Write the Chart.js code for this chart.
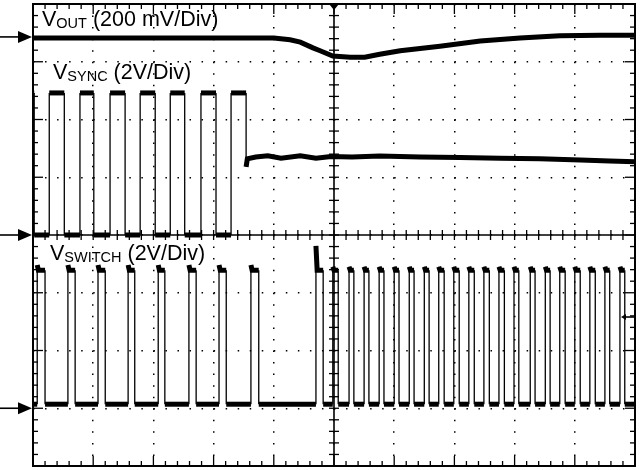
<!DOCTYPE html>
<html>
<head>
<meta charset="utf-8">
<script src="https://cdn.jsdelivr.net/npm/chart.js@4"></script>
<style>
  html, body { margin: 0; padding: 0; background: #fff; }
  #wrap { width: 640px; height: 470px; }
</style>
</head>
<body>
<div id="wrap"><canvas id="c" width="640" height="470"></canvas></div>
<script>
// All positions in screen divisions: x 0..10, y -4..+4 (0 = centre line)

// V_OUT (200 mV/Div) trace
const voutX = [0, 4.00, 4.27, 4.44, 4.65, 4.77, 4.98, 5.27, 5.51, 5.76, 6.10, 6.76, 7.43, 8.09, 8.75, 9.42, 10];
const voutY = [3.41, 3.41, 3.38, 3.34, 3.24, 3.19, 3.10, 3.08, 3.08, 3.13, 3.19, 3.27, 3.36, 3.41, 3.45, 3.46, 3.46];

// V_SYNC (2V/Div) pulses
const syncHigh = 2.46;
const syncLow = 0;
const syncFirstFall = 0.02;
const syncRise = [0.27, 0.78, 1.28, 1.78, 2.28, 2.79, 3.29];
const syncFall = [0.52, 1.01, 1.53, 2.03, 2.52, 3.04, 3.54];
// V_SYNC after the sync signal stops
const syncTailX = [3.54, 3.56, 3.70, 3.90, 4.12, 4.44, 4.70, 4.95, 5.30, 5.76, 6.43, 7.09, 7.76, 8.42, 9.09, 9.58, 10];
const syncTailY = [1.18, 1.32, 1.35, 1.37, 1.33, 1.37, 1.33, 1.36, 1.35, 1.37, 1.35, 1.34, 1.33, 1.32, 1.30, 1.28, 1.27];

// V_SWITCH (2V/Div) pulses
const swHigh = -0.61;
const swLow = -2.93;
const swRise = [0.07, 0.58, 1.08, 1.58, 2.08, 2.59, 3.09, 3.62, 4.70,
  4.98, 5.25, 5.50, 5.75, 6.00, 6.25, 6.50, 6.74, 6.99, 7.24, 7.49, 7.74, 7.99,
  8.26, 8.51, 8.75, 9.00, 9.25, 9.50, 9.75];
const swFall = [0.20, 0.70, 1.20, 1.69, 2.19, 2.71, 3.21, 3.75, 4.82,
  5.07, 5.33, 5.58, 5.83, 6.08, 6.33, 6.58, 6.83, 7.08, 7.33, 7.58, 7.83, 8.07,
  8.34, 8.59, 8.84, 9.09, 9.34, 9.58, 9.83];
const swPeak = [-0.52, -0.52, -0.52, -0.52, -0.52, -0.52, -0.52, -0.52, -0.19,
  -0.55, -0.55, -0.55, -0.55, -0.55, -0.55, -0.55, -0.55, -0.55, -0.55, -0.55, -0.55, -0.55,
  -0.55, -0.55, -0.55, -0.55, -0.55, -0.55, -0.55];

// Channel reference markers (left arrows) in divisions
const refLevels = [3.43, 0, -3.00];

// ---- build point lists from the arrays above ----
const voutPts = voutX.map((x, i) => ({ x, y: voutY[i] }));

const syncPts = [{ x: 0, y: syncHigh }, { x: syncFirstFall, y: syncHigh }, { x: syncFirstFall, y: syncLow }];
syncRise.forEach((r, i) => {
  syncPts.push({ x: r, y: syncLow }, { x: r, y: syncHigh }, { x: syncFall[i], y: syncHigh });
  if (i < syncRise.length - 1) syncPts.push({ x: syncFall[i], y: syncLow });
});
syncTailX.forEach((x, i) => syncPts.push({ x, y: syncTailY[i] }));

const swPts = [{ x: 0, y: swLow }];
swRise.forEach((r, i) => {
  swPts.push({ x: r, y: swLow }, { x: r, y: swPeak[i] }, { x: r + 0.02, y: swHigh },
             { x: swFall[i], y: swHigh }, { x: swFall[i], y: swLow });
});
swPts.push({ x: 10, y: swLow });

const edgeWidth = ctx => (Math.abs(ctx.p0.x - ctx.p1.x) < 0.6 ? 1.3 : 5);

const traceStyle = {
  showLine: true, borderColor: '#000', backgroundColor: '#000',
  pointRadius: 0, pointHoverRadius: 0, fill: false, tension: 0,
  borderJoinStyle: 'miter', borderCapStyle: 'butt'
};

const scopeDeco = {
  id: 'scopeDeco',
  afterDraw(chart) {
    const { ctx, chartArea: a, scales: { x, y } } = chart;
    const line = (x1, y1, x2, y2) => { ctx.beginPath(); ctx.moveTo(x1, y1); ctx.lineTo(x2, y2); ctx.stroke(); };
    ctx.save();
    ctx.strokeStyle = '#000';
    ctx.fillStyle = '#000';
    const cx = x.getPixelForValue(5), cy = y.getPixelForValue(0);
    // centre cross
    ctx.lineWidth = 1.6;
    line(cx, a.top, cx, a.bottom);
    line(a.left, cy, a.right, cy);
    // ticks
    ctx.lineWidth = 1.3;
    for (let k = 0; k <= 50; k++) {
      const px = x.getPixelForValue(k / 5);
      const L = (k % 5 === 0) ? 10 : 5;
      line(px, a.top, px, a.top + L);
      line(px, a.bottom, px, a.bottom - L);
      line(px, cy - 5, px, cy + 5);
    }
    for (let k = 0; k <= 40; k++) {
      const py = y.getPixelForValue(-4 + k / 5);
      const L = (k % 5 === 0) ? 10 : 5;
      line(a.left, py, a.left + L, py);
      line(a.right, py, a.right - L, py);
      line(cx - 5, py, cx + 5, py);
    }
    // frame
    ctx.lineWidth = 2;
    ctx.strokeRect(a.left, a.top, a.right - a.left, a.bottom - a.top);
    // reference arrows
    ctx.lineWidth = 1.6;
    refLevels.forEach(v => {
      const py = y.getPixelForValue(v);
      line(0, py, a.left - 12, py);
      ctx.beginPath();
      ctx.moveTo(a.left - 15, py - 6); ctx.lineTo(a.left - 1, py); ctx.lineTo(a.left - 15, py + 6);
      ctx.closePath(); ctx.fill();
    });
    // trigger position marker (top)
    ctx.beginPath();
    ctx.moveTo(cx - 5, a.top); ctx.lineTo(cx + 5, a.top); ctx.lineTo(cx, a.top + 6);
    ctx.closePath(); ctx.fill();
    // trigger level marker (right)
    const ty = y.getPixelForValue(-1.42);
    line(a.right - 12, ty, a.right, ty);
    ctx.beginPath();
    ctx.moveTo(a.right - 14, ty); ctx.lineTo(a.right - 9, ty - 3); ctx.lineTo(a.right - 9, ty + 3);
    ctx.closePath(); ctx.fill();
    // channel labels
    const big = '21.5px "Liberation Sans", Arial, Helvetica, sans-serif';
    const small = '14.5px "Liberation Sans", Arial, Helvetica, sans-serif';
    const label = (main, sub, rest, x0, base) => {
      ctx.textBaseline = 'alphabetic';
      ctx.textAlign = 'left';
      ctx.font = big; ctx.fillText(main, x0, base);
      let w = ctx.measureText(main).width;
      ctx.font = small; ctx.fillText(sub, x0 + w, base + 1.5);
      w += ctx.measureText(sub).width;
      ctx.font = big; ctx.fillText(rest, x0 + w, base);
    };
    label('V', 'OUT', ' (200 mV/Div)', 42, 26);
    label('V', 'SYNC', ' (2V/Div)', 53, 79);
    label('V', 'SWITCH', ' (2V/Div)', 50, 260);
    ctx.restore();
  }
};

new Chart(document.getElementById('c'), {
  type: 'scatter',
  data: {
    datasets: [
      Object.assign({ label: 'VOUT', data: voutPts, borderWidth: 5 }, traceStyle),
      Object.assign({ label: 'VSYNC', data: syncPts, borderWidth: 5, segment: { borderWidth: edgeWidth } }, traceStyle),
      Object.assign({ label: 'VSWITCH', data: swPts, borderWidth: 5, segment: { borderWidth: edgeWidth } }, traceStyle)
    ]
  },
  options: {
    responsive: false,
    animation: false,
    events: [],
    layout: { padding: { left: 33, right: 5, top: 4, bottom: 4 } },
    plugins: { legend: { display: false }, tooltip: { enabled: false }, title: { display: false } },
    scales: {
      x: {
        type: 'linear', min: 0, max: 10,
        ticks: { display: false, stepSize: 1 },
        grid: { color: '#000', lineWidth: 1.5, drawTicks: false },
        border: { display: false, dash: [1.5, 10.05] }
      },
      y: {
        type: 'linear', min: -4, max: 4,
        ticks: { display: false, stepSize: 1 },
        grid: { color: '#000', lineWidth: 1.5, drawTicks: false },
        border: { display: false, dash: [1.5, 10.54] }
      }
    }
  },
  plugins: [scopeDeco]
});
</script>
</body>
</html>
